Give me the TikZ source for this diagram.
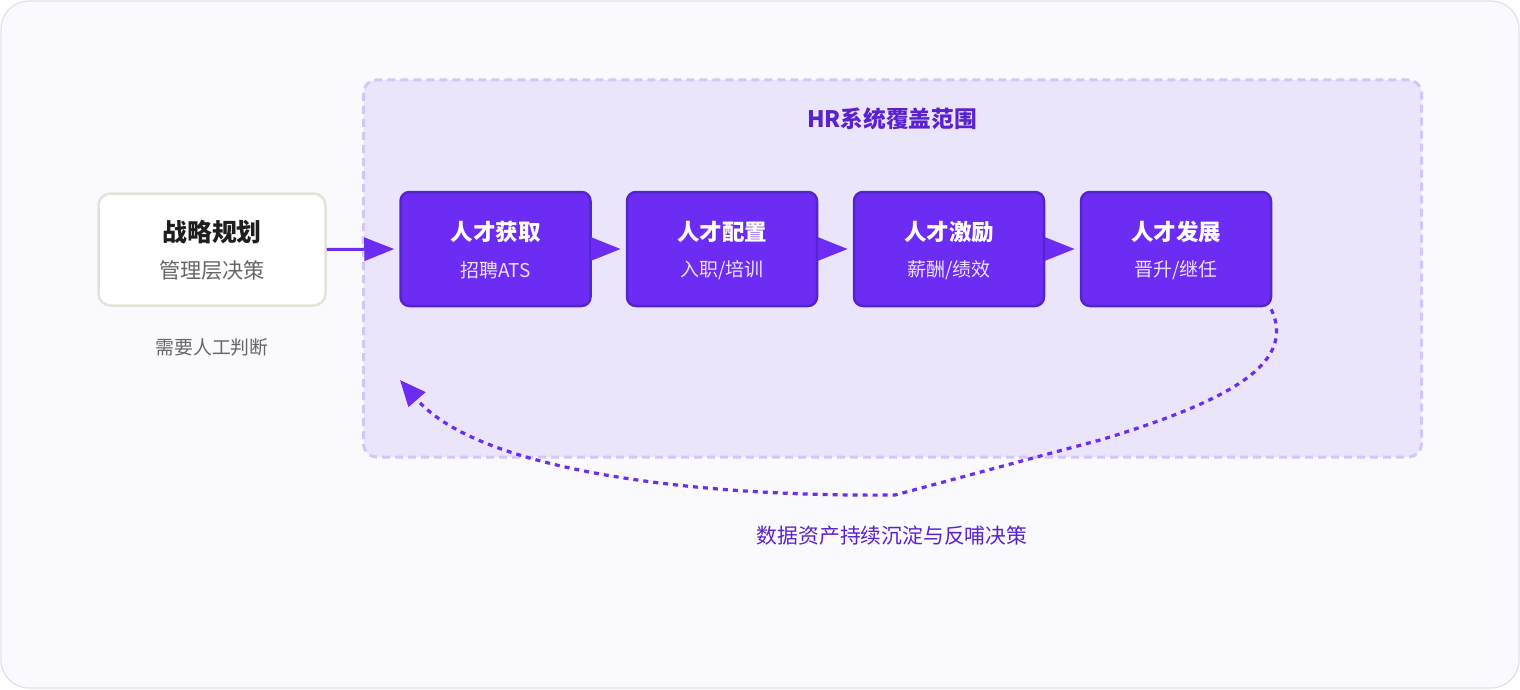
\documentclass[tikz,border=0pt]{standalone}
\usepackage{fontspec}
\setmainfont{Noto Sans CJK SC}
\usetikzlibrary{arrows.meta}
\definecolor{pagebg}{HTML}{FAF9FE}
\definecolor{pageline}{HTML}{E2DFF0}
\definecolor{scopebg}{HTML}{EBE5FC}
\definecolor{scopeline}{HTML}{D3C7FA}
\definecolor{vio}{HTML}{6C2CF4}
\definecolor{violine}{HTML}{5325CC}
\definecolor{viotext}{HTML}{5A22CF}
\definecolor{subtxt}{HTML}{EAE2FF}
\definecolor{greytxt}{HTML}{666666}
\definecolor{darktxt}{HTML}{1E1E1E}
\definecolor{cream}{HTML}{E5E2DA}
\tikzset{
  stagebox/.style={draw=violine, line width=2.5pt, fill=vio, rounded corners=9pt, minimum width=190pt, minimum height=114pt, inner sep=0pt},
  stratbox/.style={draw=cream, line width=2.5pt, fill=white, rounded corners=12pt, minimum width=227pt, minimum height=112pt, inner sep=0pt},
  ttl/.style={text=white, font=\bfseries\fontsize{22.5}{26}\selectfont, inner sep=0pt},
  sub/.style={text=subtxt, font=\fontsize{19}{22}\selectfont, inner sep=0pt},
  flow/.style={draw=vio, line width=3pt, -{Triangle[length=30pt,width=23pt]}, shorten >=5pt},
  feedback/.style={draw=vio, line width=3.2pt, dash pattern=on 5pt off 5pt, -{Triangle[length=26pt,width=22pt]}}
}
\begin{document}
\begin{tikzpicture}[x=1pt,y=-1pt]
\useasboundingbox (0,0) rectangle (1520,690);
\draw[draw=pageline, fill=pagebg, line width=1.2pt, rounded corners=28pt] (1,1) rectangle (1519,688);
\draw[draw=scopeline, fill=scopebg, line width=3pt, dash pattern=on 8pt off 5pt, rounded corners=13pt] (363.5,80) rectangle (1421.5,457);
\node[text=viotext, font=\bfseries\fontsize{22.7}{26}\selectfont, inner sep=0pt] (scopetitle) at (892,119) {HR系统覆盖范围};

\node[stratbox] (strat) at (212,249.5) {};
\node[text=darktxt, font=\bfseries\fontsize{24.8}{28}\selectfont, inner sep=0pt] (strattitle) at (212,232) {战略规划};
\node[text=greytxt, font=\fontsize{21.2}{24}\selectfont, inner sep=0pt] (stratsub) at (212,270) {管理层决策};
\node[text=greytxt, font=\fontsize{18.9}{22}\selectfont, inner sep=0pt] (human) at (212,347) {需要人工判断};

\node[stagebox] (b1) at (495.5,249) {};
\node[stagebox] (b2) at (722,249) {};
\node[stagebox] (b3) at (949,249) {};
\node[stagebox] (b4) at (1176,249) {};

\node[ttl] (t1) at (495.5,232) {人才获取};
\node[sub] (s1) at (495.5,270) {招聘ATS};
\node[ttl] (t2) at (722,232) {人才配置};
\node[sub] (s2) at (722,270) {入职/培训};
\node[ttl] (t3) at (949,232) {人才激励};
\node[sub] (s3) at (949,270) {薪酬/绩效};
\node[ttl] (t4) at (1176,232) {人才发展};
\node[sub] (s4) at (1176,270) {晋升/继任};

\draw[flow] (strat.east) -- (b1.west);
\draw[flow] (b1.east) -- (b2.west);
\draw[flow] (b2.east) -- (b3.west);
\draw[flow] (b3.east) -- (b4.west);

\coordinate (fbtip) at (400,380);
\coordinate (fbmid) at (895,495);
\draw[feedback] (b4.south east) ++(-1,2) .. controls (1295,360) and (1240,398) .. (1100,440) -- (fbmid) .. controls (700,497) and (480,472) .. (fbtip);

\node[text=viotext, font=\fontsize{20.8}{24}\selectfont, inner sep=0pt] (fblabel) at (892,536) {数据资产持续沉淀与反哺决策};
\end{tikzpicture}
\end{document}
